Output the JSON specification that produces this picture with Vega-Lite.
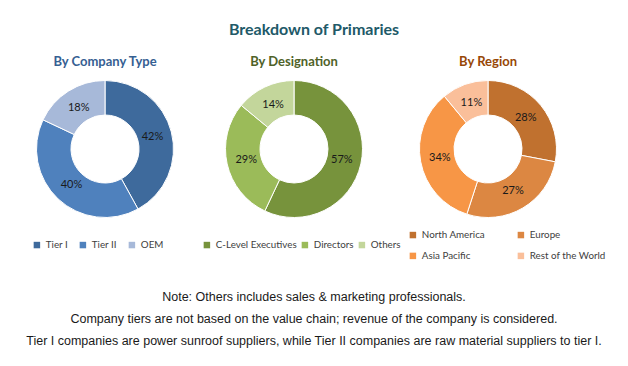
{
  "$schema": "https://vega.github.io/schema/vega-lite/v6.json",
  "background": "white",
  "padding": {"left": 10, "top": 22, "right": 0, "bottom": 0},
  "title": {"text": "Breakdown of Primaries", "font": "Lato", "fontSize": 16, "fontWeight": "bold", "color": "#215968", "anchor": "middle", "offset": 18},
  "datasets": {
    "company": [
      {"i": 1, "type": "Tier I", "share": 42, "label": "42%"},
      {"i": 2, "type": "Tier II", "share": 40, "label": "40%"},
      {"i": 3, "type": "OEM", "share": 18, "label": "18%"}
    ],
    "designation": [
      {"i": 1, "role": "C-Level Executives", "share": 57, "label": "57%"},
      {"i": 2, "role": "Directors", "share": 29, "label": "29%"},
      {"i": 3, "role": "Others", "share": 14, "label": "14%"}
    ],
    "region": [
      {"i": 1, "region": "North America", "share": 28, "label": "28%"},
      {"i": 2, "region": "Europe", "share": 27, "label": "27%"},
      {"i": 3, "region": "Asia Pacific", "share": 34, "label": "34%"},
      {"i": 4, "region": "Rest of the World", "share": 11, "label": "11%"}
    ],
    "notes": [
      {"line": 1, "text": "Note: Others includes sales & marketing professionals."},
      {"line": 2, "text": "Company tiers are not based on the value chain; revenue of the company is considered."},
      {"line": 3, "text": "Tier I companies are power sunroof suppliers, while Tier II companies are raw material suppliers to tier I."}
    ]
  },
  "spacing": 25,
  "vconcat": [
    {
      "hconcat": [
        {
          "width": 190, "height": 150,
          "title": {"text": "By Company Type", "font": "Lato", "fontSize": 13, "fontWeight": "bold", "color": "#366092", "frame": "group", "anchor": "middle", "offset": 5},
          "data": {"name": "company"},
          "encoding": {
            "theta": {"field": "share", "type": "quantitative", "stack": true},
            "order": {"field": "i", "type": "quantitative"}
          },
          "layer": [
            {
              "mark": {"type": "arc", "innerRadius": 34, "outerRadius": 68.5, "stroke": "white", "strokeWidth": 1},
              "encoding": {
                "color": {"field": "type", "type": "nominal",
                  "scale": {"domain": ["Tier I", "Tier II", "OEM"], "range": ["#3e6a9c", "#4f81bd", "#a7b9d9"]},
                  "legend": {"title": null, "orient": "none", "legendX": 22, "legendY": 166, "direction": "horizontal", "columns": 3, "columnPadding": 10}}
              }
            },
            {
              "mark": {"type": "text", "radius": 49, "font": "Lato", "fontSize": 11, "color": "#1a1a1a"},
              "encoding": {"text": {"field": "label"}}
            }
          ]
        },
        {
          "width": 188, "height": 150,
          "title": {"text": "By Designation", "font": "Lato", "fontSize": 13, "fontWeight": "bold", "color": "#4f6228", "frame": "group", "anchor": "middle", "offset": 5},
          "data": {"name": "designation"},
          "encoding": {
            "theta": {"field": "share", "type": "quantitative", "stack": true},
            "order": {"field": "i", "type": "quantitative"}
          },
          "layer": [
            {
              "mark": {"type": "arc", "innerRadius": 34, "outerRadius": 68.5, "stroke": "white", "strokeWidth": 1},
              "encoding": {
                "color": {"field": "role", "type": "nominal",
                  "scale": {"domain": ["C-Level Executives", "Directors", "Others"], "range": ["#77933c", "#9bbb59", "#c3d69b"]},
                  "legend": {"title": null, "orient": "none", "legendX": 2, "legendY": 166, "direction": "horizontal", "columns": 3, "columnPadding": 3}}
              }
            },
            {
              "mark": {"type": "text", "radius": 49, "font": "Lato", "fontSize": 11, "color": "#1a1a1a"},
              "encoding": {"text": {"field": "label"}}
            }
          ]
        },
        {
          "width": 200, "height": 150,
          "title": {"text": "By Region", "font": "Lato", "fontSize": 13, "fontWeight": "bold", "color": "#974706", "frame": "group", "anchor": "middle", "offset": 5},
          "data": {"name": "region"},
          "encoding": {
            "theta": {"field": "share", "type": "quantitative", "stack": true},
            "order": {"field": "i", "type": "quantitative"}
          },
          "layer": [
            {
              "mark": {"type": "arc", "innerRadius": 34, "outerRadius": 68.5, "stroke": "white", "strokeWidth": 1},
              "encoding": {
                "color": {"field": "region", "type": "nominal",
                  "scale": {"domain": ["North America", "Europe", "Asia Pacific", "Rest of the World"], "range": ["#c0712f", "#dc8742", "#f79646", "#fabf9a"]},
                  "legend": {"title": null, "orient": "none", "legendX": 20, "legendY": 156, "direction": "horizontal", "columns": 2, "columnPadding": 30, "rowPadding": 10}}
              }
            },
            {
              "mark": {"type": "text", "radius": 49, "font": "Lato", "fontSize": 11, "color": "#1a1a1a"},
              "encoding": {"text": {"field": "label"}}
            }
          ]
        }
      ],
      "spacing": 0,
      "bounds": "flush",
      "resolve": {"scale": {"color": "independent", "theta": "independent"}}
    },
    {
      "width": 608, "height": 66,
      "data": {"name": "notes"},
      "mark": {"type": "text", "font": "Liberation Sans Narrow, Liberation Sans", "fontSize": 12.5, "color": "#1a1a1a"},
      "encoding": {
        "y": {"field": "line", "type": "ordinal", "axis": null},
        "text": {"field": "text"}
      }
    }
  ],
  "config": {
    "view": {"stroke": null},
    "legend": {"symbolType": "square", "symbolSize": 42, "symbolStrokeWidth": 0, "labelFont": "Lato", "labelFontSize": 9.8, "labelColor": "#404040", "labelOffset": 4, "padding": 0}
  }
}
